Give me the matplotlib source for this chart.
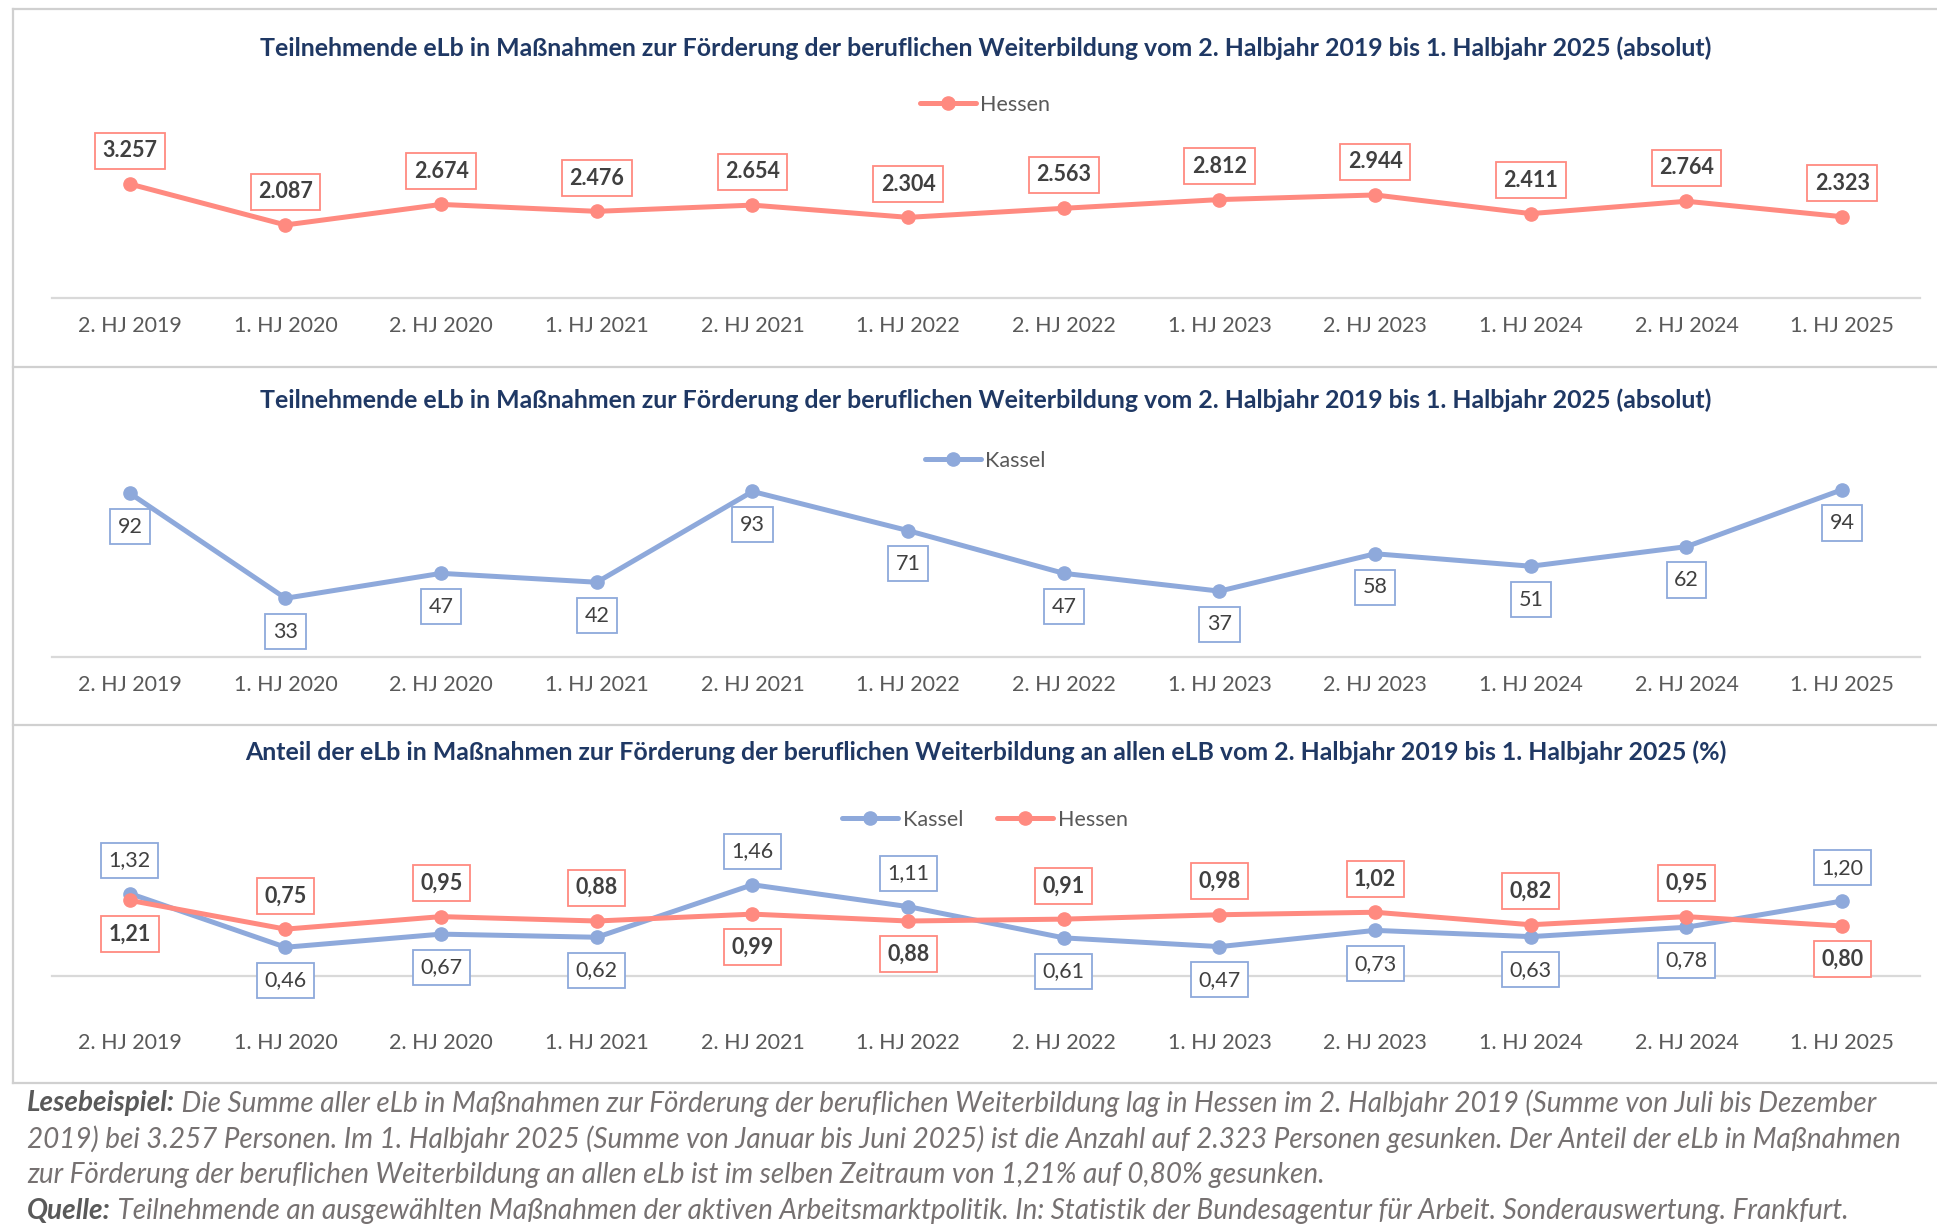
"""Three stacked line charts: eLb in Maßnahmen zur Förderung der beruflichen Weiterbildung (Hessen / Kassel)."""

import matplotlib
matplotlib.use("Agg")
import matplotlib.pyplot as plt
from matplotlib.lines import Line2D

plt.rcParams["font.family"] = ["Lato", "DejaVu Sans"]

W, H = 1937, 1229

periods = ["2. HJ 2019", "1. HJ 2020", "2. HJ 2020", "1. HJ 2021", "2. HJ 2021", "1. HJ 2022",
           "2. HJ 2022", "1. HJ 2023", "2. HJ 2023", "1. HJ 2024", "2. HJ 2024", "1. HJ 2025"]
hessen_abs = [3257, 2087, 2674, 2476, 2654, 2304, 2563, 2812, 2944, 2411, 2764, 2323]
kassel_abs = [92, 33, 47, 42, 93, 71, 47, 37, 58, 51, 62, 94]
kassel_pct = [1.32, 0.46, 0.67, 0.62, 1.46, 1.11, 0.61, 0.47, 0.73, 0.63, 0.78, 1.20]
hessen_pct = [1.21, 0.75, 0.95, 0.88, 0.99, 0.88, 0.91, 0.98, 1.02, 0.82, 0.95, 0.80]

title_abs = ("Teilnehmende eLb in Maßnahmen zur Förderung der beruflichen Weiterbildung "
             "vom 2. Halbjahr 2019 bis 1. Halbjahr 2025 (absolut)")
title_pct = ("Anteil der eLb in Maßnahmen zur Förderung der beruflichen Weiterbildung an allen eLB "
             "vom 2. Halbjahr 2019 bis 1. Halbjahr 2025 (%)")

footer = [
    ("Lesebeispiel:", " Die Summe aller eLb in Maßnahmen zur Förderung der beruflichen Weiterbildung "
                      "lag in Hessen im 2. Halbjahr 2019 (Summe von Juli bis Dezember"),
    ("", "2019) bei 3.257 Personen. Im 1. Halbjahr 2025 (Summe von Januar bis Juni 2025) ist die Anzahl "
         "auf 2.323 Personen gesunken. Der Anteil der eLb in Maßnahmen"),
    ("", "zur Förderung der beruflichen Weiterbildung an allen eLb ist im selben Zeitraum von 1,21% "
         "auf 0,80% gesunken."),
    ("Quelle:", " Teilnehmende an ausgewählten Maßnahmen der aktiven Arbeitsmarktpolitik. In: Statistik "
                "der Bundesagentur für Arbeit. Sonderauswertung. Frankfurt."),
]

RED = "#FF8A80"
BLUE = "#8EA9DB"
NAVY = "#1F3864"
TICK = "#595959"
LABEL = "#404040"
BORDER = "#D0D0D0"
FS = 15.5
TITLE_FS = 17.9
FOOT_FS = 20.1


def fx(px):
    return px / W


def fy(py):
    return 1 - py / H


def make_axes(fig, zero_y, top_y, ymax, tick_pad):
    ax = fig.add_axes([fx(52), fy(zero_y), fx(1920 - 52), (zero_y - top_y) / H])
    ax.set_xlim(-0.5, len(periods) - 0.5)
    ax.set_ylim(0, ymax)
    for s in ("top", "left", "right"):
        ax.spines[s].set_visible(False)
    ax.spines["bottom"].set_color("#D9D9D9")
    ax.spines["bottom"].set_linewidth(1.6)
    ax.set_yticks([])
    ax.set_xticks(range(len(periods)))
    ax.set_xticklabels(periods, fontsize=FS, color=TICK)
    ax.tick_params(axis="x", length=0, pad=tick_pad)
    ax.patch.set_alpha(0)
    return ax


def draw_series(ax, values, color, name):
    ax.plot(range(len(values)), values, color=color, lw=3.6, marker="o", ms=9.5,
            solid_capstyle="round", label=name, clip_on=False)


def label(ax, i, v, text, color, above, bold):
    ax.annotate(text, (i, v), xytext=(0, 24 if above else -24), textcoords="offset points",
                ha="center", va="center", fontsize=FS, color=LABEL,
                fontweight="bold" if bold else "normal",
                bbox=dict(boxstyle="square,pad=0.35", fc="white", ec=color, lw=1.3),
                annotation_clip=False)


def legend(fig, ax, y, ncol=1):
    h, l = ax.get_legend_handles_labels()
    fig.legend(h, l, loc="center", bbox_to_anchor=(fx(985), fy(y)), frameon=False, ncol=ncol,
               fontsize=FS, labelcolor=TICK, handlelength=2.6, handletextpad=0.2,
               columnspacing=1.6)


fig = plt.figure(figsize=(W / 100, H / 100), dpi=100)

# frame lines of the screenshot
for y in (9, 367, 725, 1083):
    fig.add_artist(Line2D([fx(13), 1], [fy(y), fy(y)], color=BORDER, lw=1.6))
fig.add_artist(Line2D([fx(13), fx(13)], [fy(9), fy(1083)], color=BORDER, lw=1.6))

# panel 1: Hessen absolute
ax1 = make_axes(fig, 298, 158, 4000, 13)
draw_series(ax1, hessen_abs, RED, "Hessen")
for i, v in enumerate(hessen_abs):
    label(ax1, i, v, f"{v:,}".replace(",", "."), RED, True, True)
fig.text(fx(986), fy(48), title_abs, ha="center", va="center", fontsize=TITLE_FS,
         fontweight="bold", color=NAVY)
legend(fig, ax1, 105)

# panel 2: Kassel absolute
ax2 = make_axes(fig, 657, 479, 100, 13)
draw_series(ax2, kassel_abs, BLUE, "Kassel")
for i, v in enumerate(kassel_abs):
    label(ax2, i, v, str(v), BLUE, False, False)
fig.text(fx(986), fy(400), title_abs, ha="center", va="center", fontsize=TITLE_FS,
         fontweight="bold", color=NAVY)
legend(fig, ax2, 461)

# panel 3: share in percent
ax3 = make_axes(fig, 976, 876, 1.6, 41)
draw_series(ax3, kassel_pct, BLUE, "Kassel")
draw_series(ax3, hessen_pct, RED, "Hessen")
for i, (k, hv) in enumerate(zip(kassel_pct, hessen_pct)):
    label(ax3, i, k, f"{k:.2f}".replace(".", ","), BLUE, k > hv, False)
    label(ax3, i, hv, f"{hv:.2f}".replace(".", ","), RED, hv >= k, True)
fig.text(fx(986), fy(752), title_pct, ha="center", va="center", fontsize=TITLE_FS,
         fontweight="bold", color=NAVY)
legend(fig, ax3, 820, ncol=2)

# footer
for n, (head, rest) in enumerate(footer):
    y = fy(1103 + 36 * n)
    if head:
        first = fig.text(fx(27), y, head, ha="left", va="center", fontsize=FOOT_FS,
                         style="italic", fontweight="bold", color="#595959")
        fig.add_artist(plt.Annotation(rest, xy=(1, 0.5), xycoords=first, va="center",
                                      ha="left", fontsize=FOOT_FS, style="italic",
                                      color="#767171"))
    else:
        fig.text(fx(27), y, rest, ha="left", va="center", fontsize=FOOT_FS, style="italic",
                 color="#767171")

fig.savefig("out.png", dpi=100)
